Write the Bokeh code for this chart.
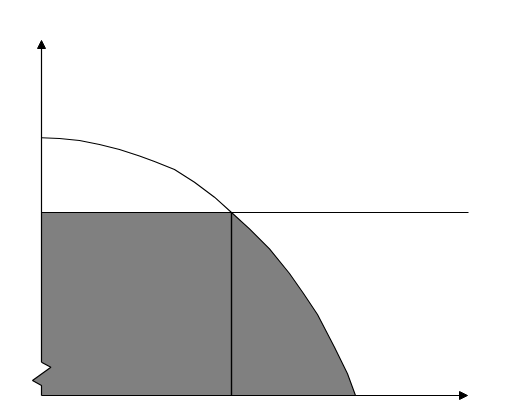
from bokeh.plotting import figure
from bokeh.models import Range1d, Arrow, NormalHead
from bokeh.embed import file_html
from bokeh.resources import INLINE

# Data (in chart units; origin at the axes corner)
curve_x = [0, 18, 38, 58, 78, 98, 113, 133, 153, 173, 190, 208, 228, 248, 262, 276, 293, 306, 314]
curve_y = [257.7, 257, 255, 251, 246, 239.5, 234, 226, 213.3, 198.3, 183, 166.7, 146.7, 122, 102, 81, 48.3, 21.7, 0]
level_y = 183          # horizontal line level
cut_x = 190            # vertical line position (intersection)
x_axis_end = 426
y_axis_end = 355
line_end = 427
break_x = [0, -9, 9.4, 0]     # axis-break zigzag (bottom to top)
break_y = [10, 15, 28.3, 33.3]

p = figure(width=492, height=402, output_backend="svg", toolbar_location=None,
           x_range=Range1d(-41, 451), y_range=Range1d(-7, 395),
           x_axis_type=None, y_axis_type=None, min_border=0)
p.grid.visible = False
p.outline_line_color = None
p.background_fill_color = "white"

# shaded region
tail_x = [x for x in curve_x if x > cut_x]
tail_y = [y for x, y in zip(curve_x, curve_y) if x > cut_x]
poly_x = [0, cut_x] + tail_x + [0] + break_x + [0]
poly_y = [level_y, level_y] + tail_y + [0] + break_y + [level_y]
p.patch(poly_x, poly_y, fill_color="#808080", line_color=None)

# curve
p.line(curve_x, curve_y, line_color="black", line_width=1.1, line_join="round")
# horizontal level line
p.line([0, line_end], [level_y, level_y], line_color="black", line_width=1.1)
# vertical line
p.line([cut_x, cut_x], [0, level_y], line_color="black", line_width=1.4)

# y axis with break
p.line([0] + break_x, [0] + break_y, line_color="black", line_width=1.2)
p.add_layout(Arrow(x_start=0, y_start=break_y[-1], x_end=0, y_end=y_axis_end,
                   line_color="black", line_width=1.2,
                   end=NormalHead(size=8, fill_color="black", line_color="black")))
# x axis
p.add_layout(Arrow(x_start=0, y_start=0, x_end=x_axis_end, y_end=0,
                   line_color="black", line_width=1.2,
                   end=NormalHead(size=8, fill_color="black", line_color="black")))

open("out.html", "w").write(file_html(p, INLINE))
